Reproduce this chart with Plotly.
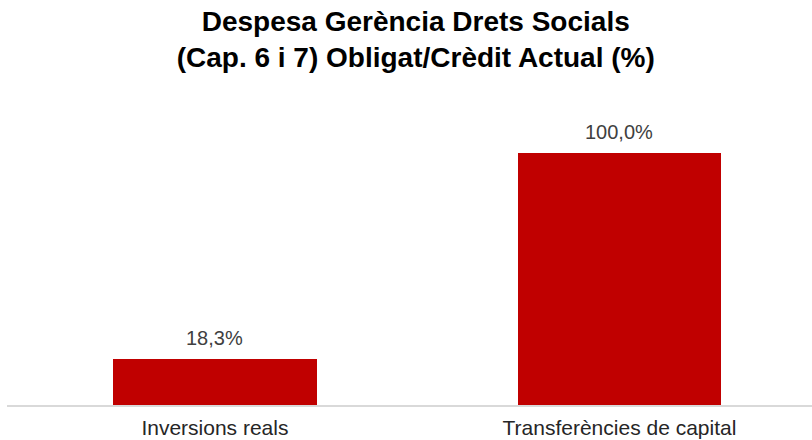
import plotly.graph_objects as go

categories = ["Inversions reals", "Transferències de capital"]
values = [18.3, 100.0]
labels = ["18,3%", "100,0%"]
title_lines = ["Despesa Gerència Drets Socials", "(Cap. 6 i 7) Obligat/Crèdit Actual (%)"]

FONT = "Liberation Sans, Arial"

fig = go.Figure()
fig.add_trace(go.Bar(
    x=categories, y=values, width=0.504,
    marker=dict(color="#C00000", line=dict(width=0)),
    hoverinfo="x+y",
))

for c, v, t in zip(categories, values, labels):
    fig.add_annotation(x=c, y=v, text=t, showarrow=False, yanchor="middle", yshift=21,
                       font=dict(family=FONT, size=20, color="#404040"))

fig.update_layout(
    width=812, height=440,
    margin=dict(l=7, r=0, t=100, b=35),
    paper_bgcolor="white", plot_bgcolor="white",
    title=dict(text="<b>" + "<br>".join(title_lines) + "</b>",
               x=0.512, xanchor="center", yref="container", y=0.93, yanchor="top",
               font=dict(family=FONT, size=28, color="#000000")),
    showlegend=False,
    bargap=0,
)
fig.update_xaxes(range=[-0.514, 1.476], showline=True, linecolor="#D9D9D9", linewidth=1.5,
                 ticks="", tickfont=dict(family=FONT, size=21, color="#262626"),
                 ticklabelstandoff=3)
fig.update_yaxes(range=[0, 121], visible=False, showgrid=False)

fig.write_html("out.html", config={"displayModeBar": False},
               post_script="document.body.style.margin='0';document.body.style.padding='0';")
